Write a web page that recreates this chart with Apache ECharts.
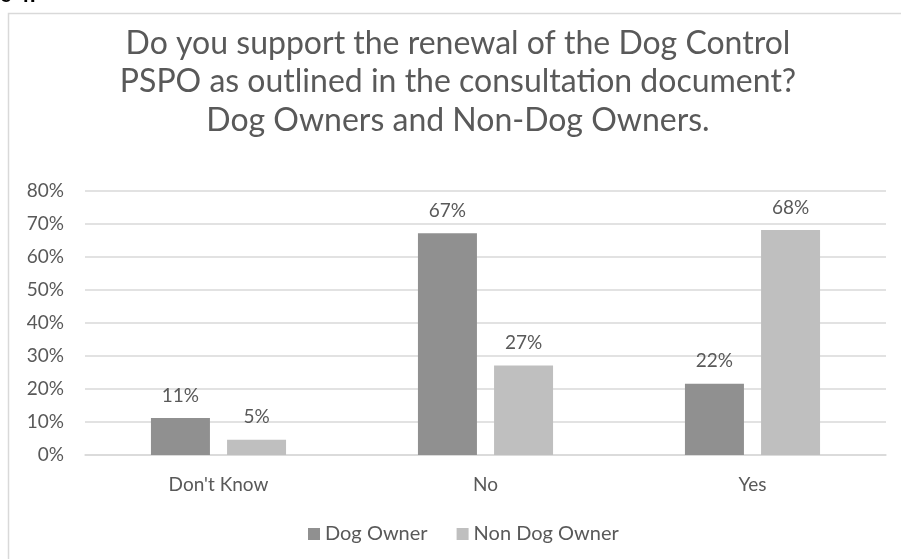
<!DOCTYPE html>
<html>
<head>
<meta charset="utf-8">
<script src="https://cdn.jsdelivr.net/npm/echarts@6/dist/echarts.min.js"></script>
<style>
html,body{margin:0;padding:0;background:#fff;}
#chart{width:901px;height:559px;}
</style>
</head>
<body>
<div id="chart"></div>
<script>
const categories = ["Don't Know", "No", "Yes"];
const dogOwner = [11.2, 67.2, 21.6];
const nonDogOwner = [4.6, 27.1, 68.2];
const seriesNames = ["Dog Owner", "Non Dog Owner"];
const titleLines = [
  "Do you support the renewal of the Dog Control",
  "PSPO as outlined in the consultation document?",
  "Dog Owners and Non-Dog Owners."
];

const FONT = "Lato, 'Open Sans', sans-serif";
const TXT = "#595959";
const chart = echarts.init(document.getElementById('chart'), null, {renderer: 'canvas'});
const labelOpt = {
  show: true, position: 'top', distance: 13,
  color: TXT, fontFamily: FONT, fontSize: 19,
  formatter: p => Math.round(p.value) + '%'
};
chart.setOption({
  animation: false,
  backgroundColor: '#fff',
  graphic: [
    {type: 'rect', shape: {x: 8.5, y: 13.5, width: 900, height: 560}, style: {fill: 'none', stroke: '#d9d9d9', lineWidth: 1.5}, silent: true},
    {type: 'text', left: 0, top: -14, style: {text: 'e 4:', font: 'bold 21px Arial', fill: '#000'}},
    {type: 'text', x: 458, y: 24, silent: true,
     style: {text: titleLines.join('\n'), fill: TXT, fontFamily: FONT, fontSize: 32, lineHeight: 38.5,
             align: 'center', verticalAlign: 'top'}}
  ],
  legend: {
    data: seriesNames, bottom: 10, left: 303,
    itemWidth: 12, itemHeight: 12, itemGap: 29,
    icon: 'rect',
    textStyle: {color: TXT, fontFamily: FONT, fontSize: 20}
  },
  grid: {left: 85, right: 15, top: 191, bottom: 104, containLabel: false},
  xAxis: {
    type: 'category', data: categories,
    axisLine: {lineStyle: {color: '#d9d9d9', width: 1.5}},
    axisTick: {show: false},
    axisLabel: {color: TXT, fontFamily: FONT, fontSize: 19, margin: 20}
  },
  yAxis: {
    type: 'value', min: 0, max: 80, interval: 10,
    axisLine: {show: false}, axisTick: {show: false},
    splitLine: {lineStyle: {color: '#d9d9d9', width: 1.5}},
    axisLabel: {color: TXT, fontFamily: FONT, fontSize: 19, margin: 21, formatter: '{value}%'}
  },
  series: [
    {name: seriesNames[0], type: 'bar', data: dogOwner, barWidth: 59, barGap: '29%',
     itemStyle: {color: '#909090'}, label: labelOpt},
    {name: seriesNames[1], type: 'bar', data: nonDogOwner, barWidth: 59,
     itemStyle: {color: '#bfbfbf'}, label: labelOpt}
  ]
});
</script>
</body>
</html>
